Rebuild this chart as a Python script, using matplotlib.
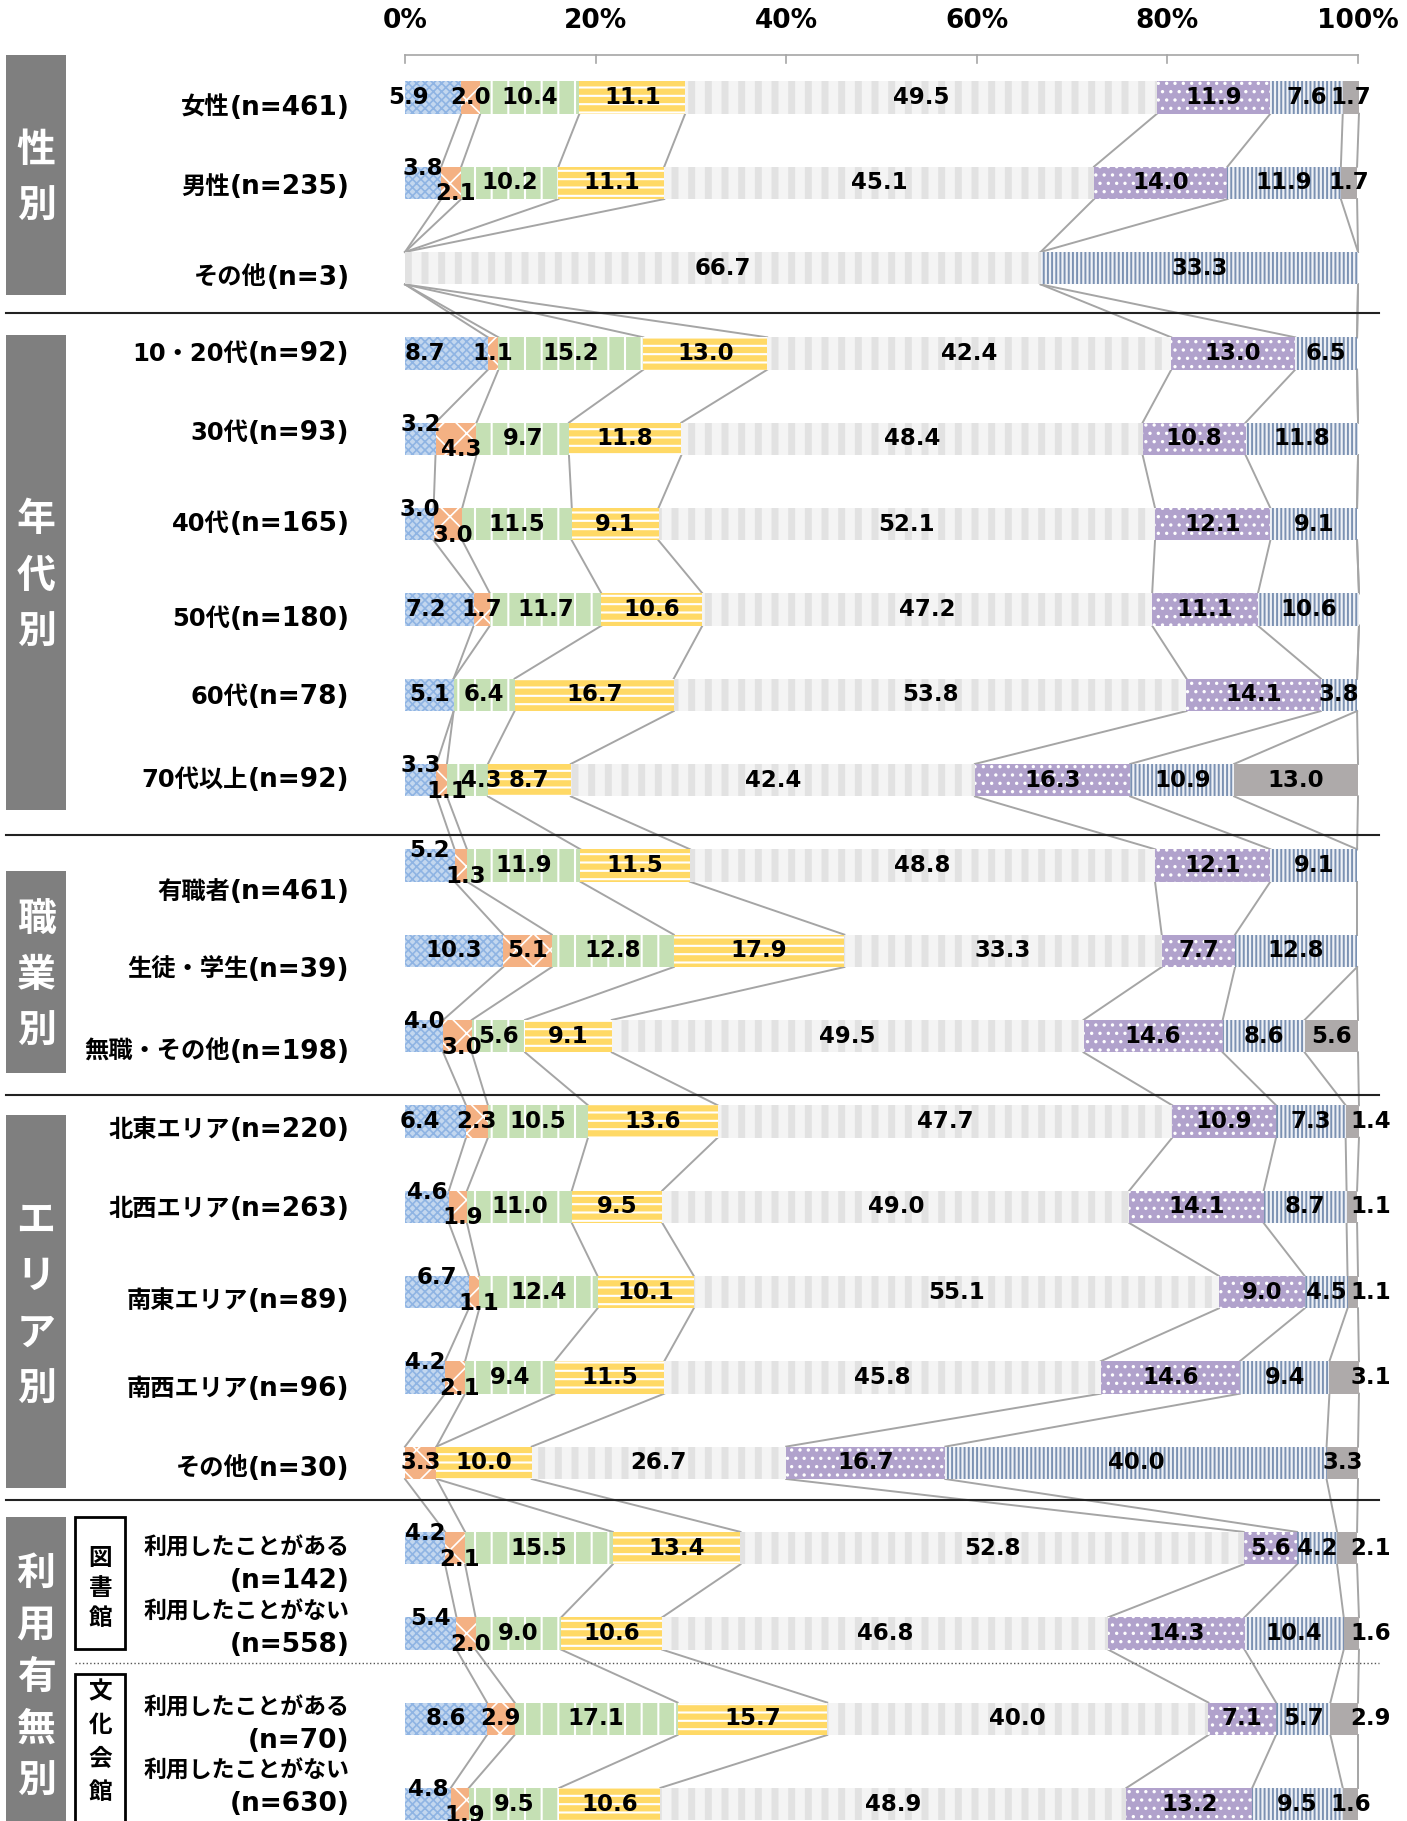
import matplotlib.pyplot as plt
from matplotlib.patches import Rectangle
import numpy as np

plt.rcParams['font.family'] = ['DejaVu Sans', 'Noto Sans CJK JP']

# ---- data -------------------------------------------------------------
row_labels = ['女性(n=461)', '男性(n=235)', 'その他(n=3)',
              '10・20代(n=92)', '30代(n=93)', '40代(n=165)', '50代(n=180)',
              '60代(n=78)', '70代以上(n=92)',
              '有職者(n=461)', '生徒・学生(n=39)', '無職・その他(n=198)',
              '北東エリア(n=220)', '北西エリア(n=263)', '南東エリア(n=89)',
              '南西エリア(n=96)', 'その他(n=30)',
              '利用したことがある\n(n=142)', '利用したことがない\n(n=558)',
              '利用したことがある\n(n=70)', '利用したことがない\n(n=630)']

ser_blue   = [5.9, 3.8, 0, 8.7, 3.2, 3.0, 7.2, 5.1, 3.3, 5.2, 10.3, 4.0, 6.4, 4.6, 6.7, 4.2, 0, 4.2, 5.4, 8.6, 4.8]
ser_orange = [2.0, 2.1, 0, 1.1, 4.3, 3.0, 1.7, 0, 1.1, 1.3, 5.1, 3.0, 2.3, 1.9, 1.1, 2.1, 3.3, 2.1, 2.0, 2.9, 1.9]
ser_green  = [10.4, 10.2, 0, 15.2, 9.7, 11.5, 11.7, 6.4, 4.3, 11.9, 12.8, 5.6, 10.5, 11.0, 12.4, 9.4, 0, 15.5, 9.0, 17.1, 9.5]
ser_yellow = [11.1, 11.1, 0, 13.0, 11.8, 9.1, 10.6, 16.7, 8.7, 11.5, 17.9, 9.1, 13.6, 9.5, 10.1, 11.5, 10.0, 13.4, 10.6, 15.7, 10.6]
ser_lgray  = [49.5, 45.1, 66.7, 42.4, 48.4, 52.1, 47.2, 53.8, 42.4, 48.8, 33.3, 49.5, 47.7, 49.0, 55.1, 45.8, 26.7, 52.8, 46.8, 40.0, 48.9]
ser_purple = [11.9, 14.0, 0, 13.0, 10.8, 12.1, 11.1, 14.1, 16.3, 12.1, 7.7, 14.6, 10.9, 14.1, 9.0, 14.6, 16.7, 5.6, 14.3, 7.1, 13.2]
ser_lines  = [7.6, 11.9, 33.3, 6.5, 11.8, 9.1, 10.6, 3.8, 10.9, 9.1, 12.8, 8.6, 7.3, 8.7, 4.5, 9.4, 40.0, 4.2, 10.4, 5.7, 9.5]
ser_gray   = [1.7, 1.7, 0, 0, 0, 0, 0, 0, 13.0, 0, 0, 5.6, 1.4, 1.1, 1.1, 3.1, 3.3, 2.1, 1.6, 2.9, 1.6]

ticks = [0, 20, 40, 60, 80, 100]

# ---- styles ----------------------------------------------------------
series = [ser_blue, ser_orange, ser_green, ser_yellow, ser_lgray, ser_purple, ser_lines, ser_gray]
# (facecolor, hatch, hatchcolor, hatch lw)
styles = [('#c3d7ef', 'xxxx', '#8fb4e3', 1.2),
          ('#f4b183', 'x', 'white', 1.2),
          ('#c5e0b4', '|', 'white', 1.5),
          ('#ffd966', '--', 'white', 1.5),
          ('#f4f4f4', '|', '#e2e2e2', 5),
          ('#b1a2cc', '..', 'white', 1.2),
          ('#eef1f6', '||||', '#7b91b2', 1.4),
          ('#aeaaaa', None, '#aeaaaa', 1.0)]

vals = np.array(series).T          # rows x segments
n = len(row_labels)
y = np.arange(n)
h = 0.38
cum = np.hstack([np.zeros((n, 1)), np.cumsum(vals, axis=1)])

fig = plt.figure(figsize=(14.07, 18.21), dpi=100)
ax = fig.add_axes([0, 0, 1, 1])
ax.set_xlim(-42.5, 105.14)
ax.set_ylim(20.198, -1.143)
ax.axis('off')

# bars
for k, s in enumerate(series):
    fc, hatch, hc, hlw = styles[k]
    bars = ax.barh(y, s, left=cum[:, k], height=h, color=fc, hatch=hatch,
                   edgecolor=hc, linewidth=0, zorder=2)
    for b in bars:
        if hasattr(b, 'set_hatch_linewidth'):
            b.set_hatch_linewidth(hlw)

# series lines
for i in range(n - 1):
    for k in range(1, 9):
        ax.plot([cum[i, k], cum[i + 1, k]], [i + h / 2, i + 1 - h / 2],
                color='#a5a5a5', lw=1.4, zorder=1)

# value labels
stagger = {1, 4, 5, 8, 9, 11, 13, 14, 15, 17, 18, 20}
gray_out = {12, 13, 14, 15, 17, 18, 19}
nudge = {(0, 0): -2.6, (3, 0): -2.3, (6, 0): -1.4, (12, 0): -1.6, (8, 2): 1.4}
for i in range(n):
    for k in range(8):
        v = vals[i, k]
        if v <= 0:
            continue
        xc = cum[i, k] + v / 2 + nudge.get((i, k), 0)
        yc = i
        if i in stagger and k == 0:
            yc = i - 0.17
        elif i in stagger and k == 1:
            yc = i + 0.13
            xc += 0.5
        if k == 7 and i in gray_out:
            xc = 101.3
        ax.text(xc, yc, f'{v:.1f}', ha='center', va='center', fontsize=16.5,
                fontweight='bold', color='black', zorder=4)

# top axis
ax.plot([0, 100], [-0.5, -0.5], color='#a6a6a6', lw=1.2)
for t in ticks:
    ax.plot([t, t], [-0.5, -0.41], color='#a6a6a6', lw=1.2)
    ax.text(t, -0.9, f'{t}%', ha='center', va='center', fontsize=19,
            fontweight='bold')

# category labels: kana/kanji part a bit smaller than the (n=..) part
label_dy = [0.12, 0.05, 0.11, 0.0, -0.07, 0.0, 0.11, 0.03, 0.0,
            0.31, 0.23, 0.18, 0.10, 0.03, 0.10, 0.14, 0.07,
            0.20, -0.05, 0.07, -0.19]
for i, lab in enumerate(row_labels):
    yl = i + label_dy[i]
    if '\n' in lab:
        head, tail = lab.split('\n')
        ax.text(-5.8, yl + 0.19, tail, ha='right', va='center', fontsize=19,
                fontweight='bold')
        ax.text(-5.8, yl - 0.2, head, ha='right', va='center', fontsize=16.5,
                fontweight='bold')
    else:
        p = lab.index('(')
        head, tail = lab[:p], lab[p:]
        t = ax.text(-5.8, yl, tail, ha='right', va='center', fontsize=19,
                    fontweight='bold')
        ax.annotate(head, xy=(0, 0.5), xycoords=t, ha='right', va='center',
                    fontsize=17.5, fontweight='bold')

# group boxes
groups = [('性別', -0.50, 2.31, 0.66),
          ('年代別', 2.78, 8.35, 0.66),
          ('職業別', 9.06, 11.43, 0.66),
          ('エリア別', 11.92, 16.29, 0.66),
          ('利用有無別', 16.63, 20.4, 0.61)]
for name, y0, y1, sp in groups:
    ax.add_patch(Rectangle((-41.9, y0), 6.35, y1 - y0, facecolor='#7f7f7f',
                           edgecolor='none', zorder=2))
    yc = (y0 + min(y1, 20.198)) / 2 + 0.05
    if name == '利用有無別':
        yc = 18.52
    m = len(name)
    for j, ch in enumerate(name):
        ax.text(-38.72, yc + (j - (m - 1) / 2) * sp, ch, ha='center', va='center',
                fontsize=28, fontweight='bold', color='white', zorder=3)

# sub boxes
subs = [('図書館', 16.64, 18.18, 0.354, 17.47),
        ('文化会館', 18.48, 20.5, 0.39, 19.27)]
for name, y0, y1, sp, yc in subs:
    ax.add_patch(Rectangle((-34.6, y0), 5.25, y1 - y0, facecolor='white',
                           edgecolor='black', lw=2, zorder=2))
    m = len(name)
    for j, ch in enumerate(name):
        ax.text(-31.97, yc + (j - (m - 1) / 2) * sp, ch, ha='center', va='center',
                fontsize=17, fontweight='bold', zorder=3)

# separators
for ys in [2.53, 8.64, 11.69, 16.44]:
    ax.plot([-41.9, 102.2], [ys, ys], color='#222222', lw=1.5)
ax.plot([-34.6, 102.2], [18.35, 18.35], color='#555555', lw=1, ls=':')

plt.savefig('out.png', dpi=100, facecolor='white')
